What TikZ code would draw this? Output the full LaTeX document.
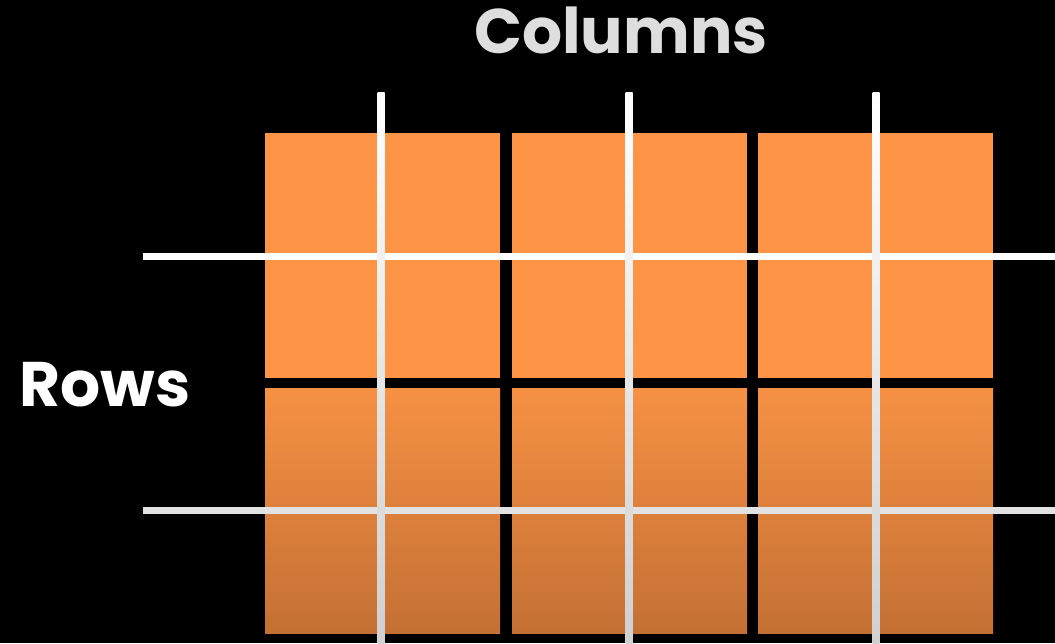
\documentclass[tikz,border=0pt]{standalone}
\usepackage{fontspec}
\setmainfont{Poppins}
\begin{document}
\begin{tikzpicture}[x=1pt,y=-1pt,
  sq/.style={minimum width=235pt,minimum height=245pt,inner sep=0pt,outer sep=0pt,anchor=north west},
  topsq/.style={sq,fill=orangeA},
  botsq/.style={sq,top color=orangeB,bottom color=orangeC},
  label/.style={font=\fontsize{63}{66}\selectfont\bfseries,inner sep=0pt}]
\definecolor{orangeA}{RGB}{254,148,70}
\definecolor{orangeB}{RGB}{246,145,68}
\definecolor{orangeC}{RGB}{196,112,52}
\definecolor{lineG}{RGB}{226,226,226}
\definecolor{colT}{RGB}{222,222,222}
\fill[black] (0,0) rectangle (1055,643);
\useasboundingbox (0,0) rectangle (1055,643);
% squares
\node[topsq] (s11) at (265,133) {};
\node[topsq] (s12) at (512,133) {};
\node[topsq] (s13) at (758,133) {};
\node[botsq] (s21) at (265,388) {};
\node[botsq] (s22) at (512,388) {};
\node[botsq] (s23) at (758,388) {};
% horizontal lines
\fill[white] (143,252.5) rectangle (1055,259.5);
\fill[lineG] (143,506.5) rectangle (1055,514);
% vertical lines
\foreach \x in {381,629,876}{
  \shade[top color=white,bottom color=lineG!92!black] (\x-3.5,92) rectangle (\x+3.5,643);
}
% labels
\node[label,text=colT] (cols) at (621,30) {Columns};
\node[label,text=white] (rows) at (105,385) {Rows};
\end{tikzpicture}
\end{document}
